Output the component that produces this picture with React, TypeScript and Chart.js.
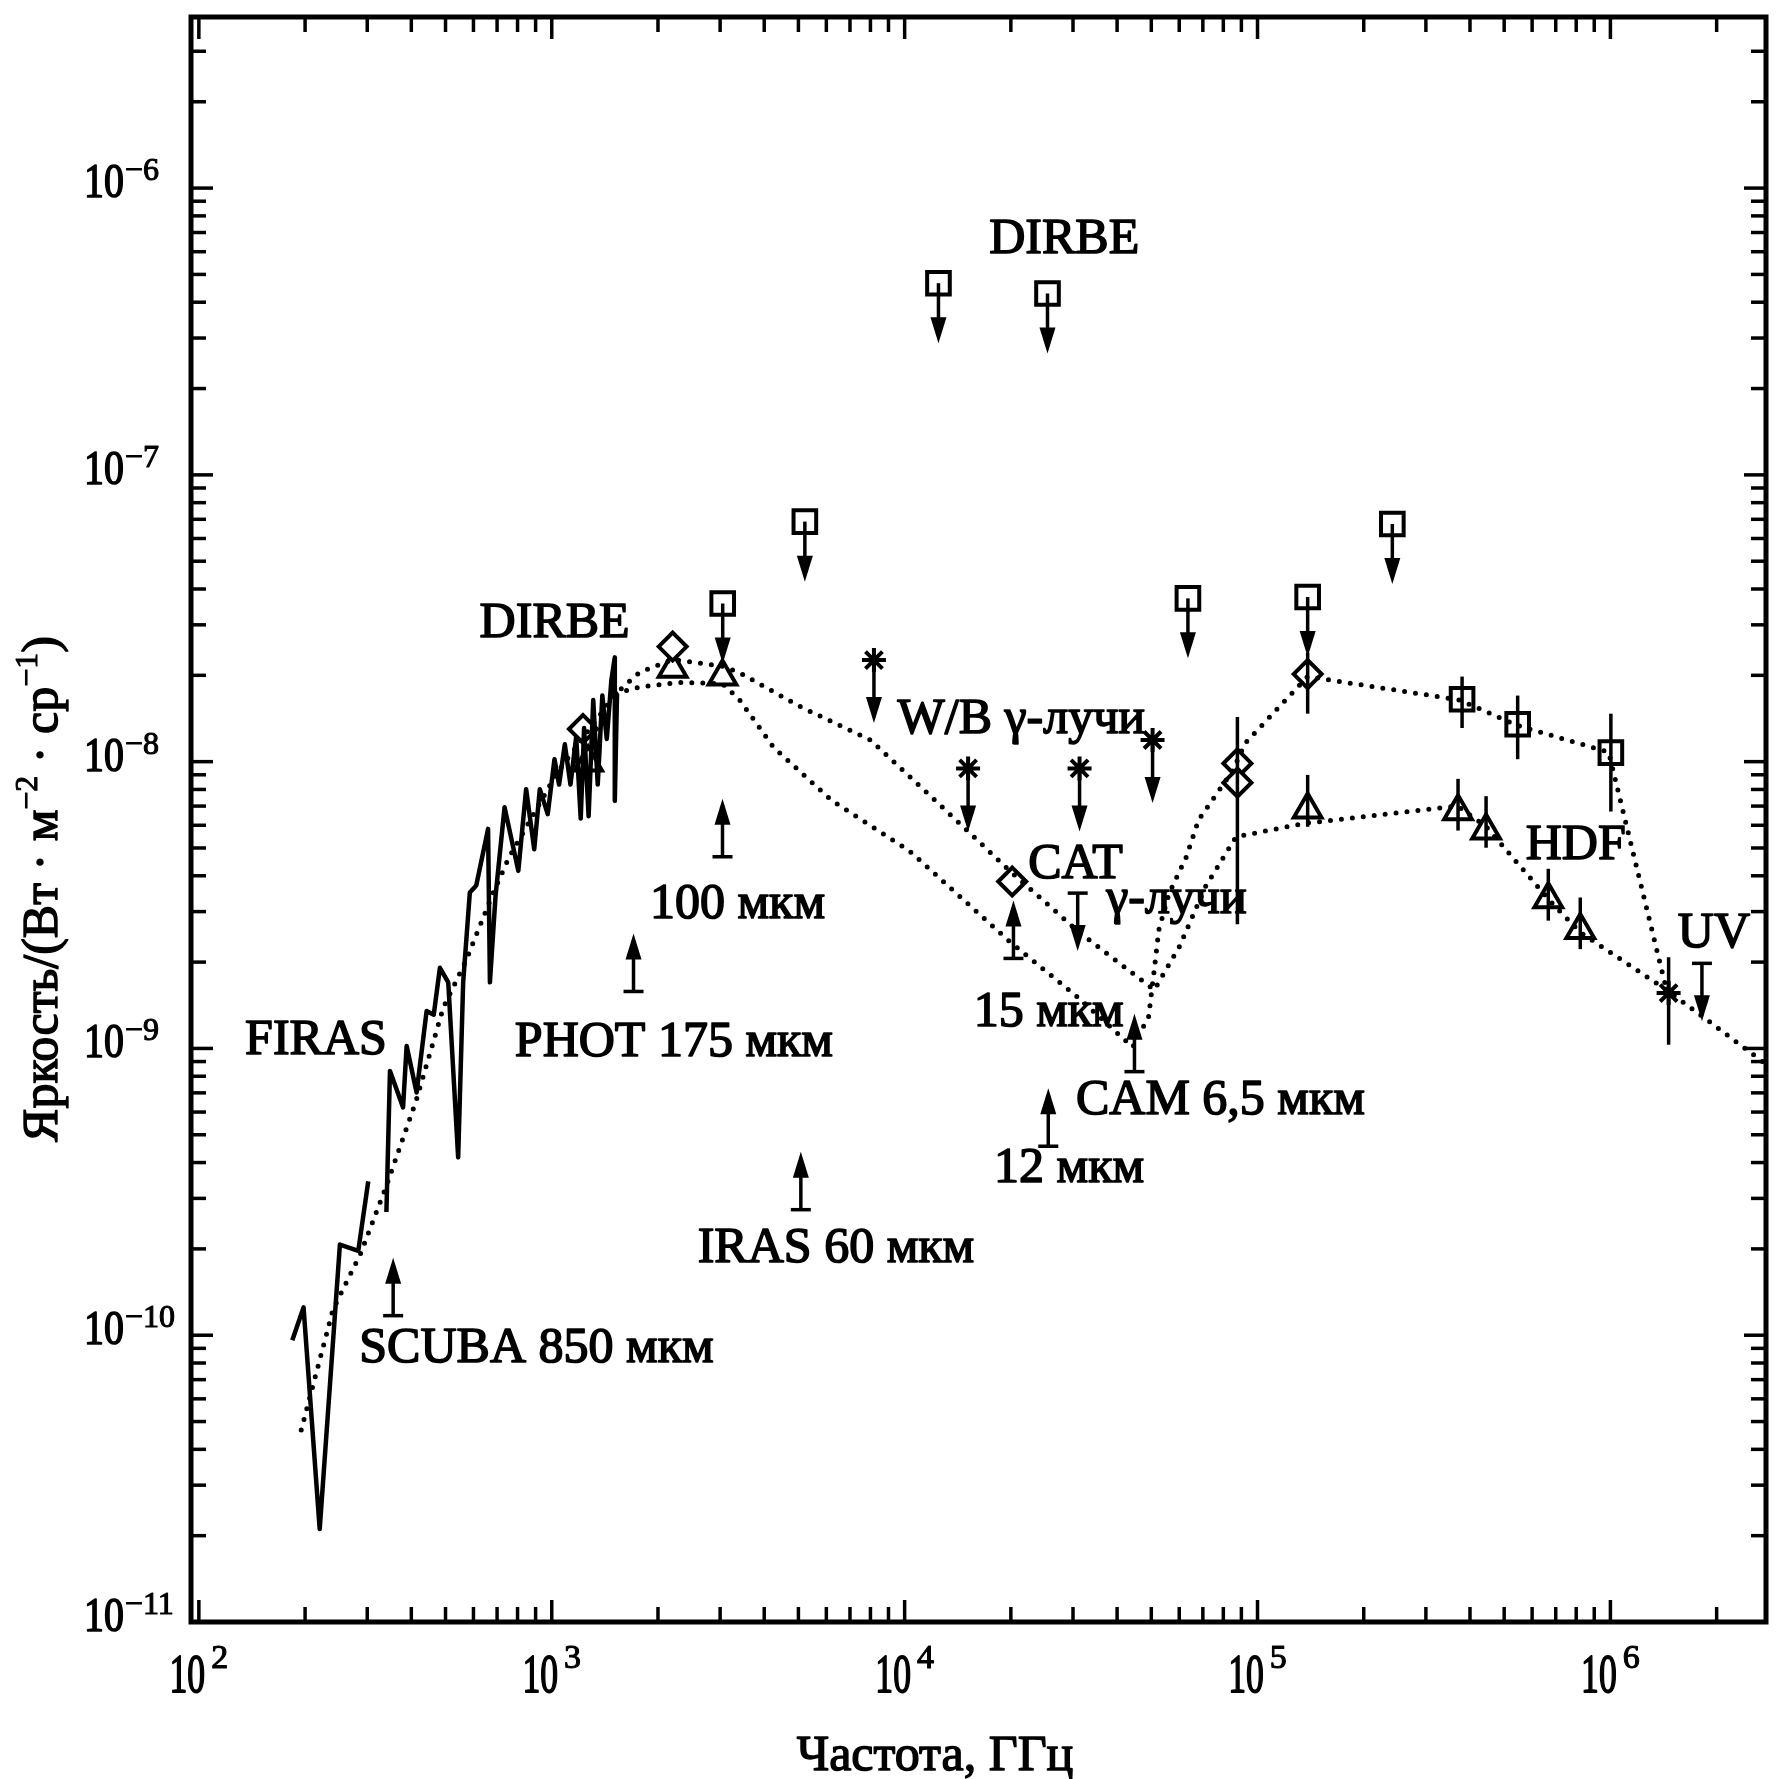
import React, { useEffect, useRef } from 'react';
import { Chart, registerables } from 'chart.js';

Chart.register(...registerables);

// Axis ranges: frequency in GHz, brightness in W·m⁻²·sr⁻¹
const FREQ_MIN = 95;
const FREQ_MAX = 2.76e6;
const BRIGHT_MIN = 1e-11;
const BRIGHT_MAX = 3.95e-6;

const xTickPowers = [2, 3, 4, 5, 6];
const yTickPowers = [-11, -10, -9, -8, -7, -6];

// FIRAS spectrum (null = break in the trace)
const firasFreq = [
  184, 198, 220, 251, 283, 302, 320, 340, 348, 379, 388, 414, 442, 463, 482, 509, 543, 561, 586, 611,
  660, 668, 693, 735, 804, 846, 892, 925, 974, 1018, 1049, 1089, 1130, 1173, 1208, 1235, 1272, 1311,
  1350, 1391, 1432, 1476, 1509, 1509, 1531,
];
const firasValue = [
  9.6e-11, 1.25e-10, 2.11e-11, 2.07e-10, 1.97e-10, 3.44e-10, null, 2.69e-10, 8.35e-10, 6.23e-10,
  1.02e-9, 7.02e-10, 1.35e-9, 1.31e-9, 1.91e-9, 1.7e-9, 4.17e-10, 1.7e-9, 3.5e-9, 3.7e-9,
  5.83e-9, 1.7e-9, 3.4e-9, 6.93e-9, 4.16e-9, 8.02e-9, 4.95e-9, 8.02e-9, 6.56e-9, 1.02e-8,
  8.32e-9, 1.15e-8, 8.32e-9, 1.22e-8, 6.33e-9, 1.31e-8, 6.45e-9, 1.64e-8, 8.32e-9, 1.7e-8,
  1.2e-8, 1.93e-8, 2.31e-8, 7.3e-9, 1.73e-8,
];

// Dotted model curves
const modelUpperFreq = [
  195, 240, 287, 340, 412, 493, 571, 683, 757, 1034, 1520, 1776, 2201, 3051, 3409, 5087, 7995,
  15360, 19680, 31260, 50980, 60010, 71170, 86930, 136700, 368900, 444000, 677200, 821400,
  1.442e6, 1.828e6, 2.73e6,
];
const modelUpperValue = [
  4.67e-11, 1.23e-10, 1.92e-10, 3.32e-10, 6.53e-10, 1.39e-9, 2.02e-9, 3.5e-9, 4.64e-9, 9.12e-9,
  1.73e-8, 2.05e-8, 2.27e-8, 2.15e-8, 2.04e-8, 1.55e-8, 1.19e-8, 5.62e-9, 4.2e-9, 2.54e-9,
  1.6e-9, 2.26e-9, 3.66e-9, 5.47e-9, 6.1e-9, 7.0e-9, 5.94e-9, 3.25e-9, 2.54e-9, 1.6e-9,
  1.29e-9, 8.9e-10,
];
const modelLowerFreq = [
  1520, 1776, 2285, 3051, 3409, 4258, 6215, 10290, 19680, 31720, 44290, 49130, 50980, 52520,
  56150, 62760, 68080, 85030, 92250, 138700, 374400, 542000, 988300, 1.442e6,
];
const modelLowerValue = [
  1.73e-8, 1.82e-8, 1.89e-8, 1.87e-8, 1.64e-8, 1.12e-8, 7.32e-9, 4.9e-9, 2.38e-9, 1.47e-9,
  1.01e-9, 1.29e-9, 1.88e-9, 2.59e-9, 3.47e-9, 4.64e-9, 6.27e-9, 9.29e-9, 1.16e-8, 1.98e-8,
  1.64e-8, 1.34e-8, 1.08e-8, 1.6e-9,
];

// DIRBE upper limits (squares with downward arrows)
const dirbeLimitFreq = [3051, 5215, 12470, 25400, 63500, 138700, 241000];
const dirbeLimitValue = [3.56e-8, 6.87e-8, 4.66e-7, 4.29e-7, 3.71e-8, 3.75e-8, 6.74e-8];

// Near-IR detections (squares with error bars)
const nirFreq = [379900, 546000, 1.003e6];
const nirValue = [1.65e-8, 1.35e-8, 1.075e-8];
const nirLow = [1.31e-8, 1.02e-8, 6.7e-9];
const nirHigh = [1.98e-8, 1.7e-8, 1.47e-8];

// Diamonds
const diamondFreq = [1226, 2201, 20180, 87700, 87700, 138700];
const diamondValue = [1.3e-8, 2.52e-8, 3.82e-9, 9.86e-9, 8.45e-9, 2.02e-8];
const diamondLow = [null, null, null, 2.71e-9, null, 1.47e-8];
const diamondHigh = [null, null, null, 1.43e-8, null, 2.4e-8];

// Triangles (DIRBE / HDF)
const triangleFreq = [1268, 2201, 3047, 138700, 370000, 444300, 666800, 821500];
const triangleValue = [9.94e-9, 2.11e-8, 1.98e-8, 6.81e-9, 6.71e-9, 5.75e-9, 3.31e-9, 2.59e-9];
const triangleLow = [null, null, null, 5.93e-9, 5.75e-9, 5.01e-9, 2.79e-9, 2.22e-9];
const triangleHigh = [null, null, null, 8.99e-9, 8.71e-9, 7.58e-9, 4.23e-9, 3.36e-9];

// W/B gamma-ray upper limits (asterisks with downward arrows)
const gammaFreq = [8185, 15130, 31310, 50420];
const gammaValue = [2.26e-8, 9.47e-9, 9.47e-9, 1.19e-8];

// UV point (asterisk with error bar)
const uvFreq = [1.462e6];
const uvValue = [1.56e-9];
const uvLow = [1.03e-9];
const uvHigh = [2.08e-9];

// Barred upper limits (CAT gamma-rays, UV)
const barLimitFreq = [30930, 1.817e6];
const barLimitValue = [3.48e-9, 1.98e-9];

// Lower limits (upward arrows): SCUBA, PHOT, 100 μm, IRAS, 15 μm, 12 μm, CAM 6.5 μm
const lowerLimitFreq = [355.3, 1705, 3047, 5080, 20340, 25530, 44800];
const lowerLimitValue = [1.17e-10, 1.58e-9, 4.66e-9, 2.74e-10, 2.06e-9, 4.56e-10, 8.3e-10];

// Text labels (left edge / baseline in data coordinates)
const labelText = [
  'DIRBE', 'DIRBE', 'FIRAS', 'SCUBA 850 мкм', 'PHOT 175 мкм', '100 мкм', 'IRAS 60 мкм',
  'W/B γ-лучи', 'CAT', 'γ-лучи', '15 мкм', 'CAM 6,5 мкм', '12 мкм', 'HDF', 'UV',
];
const labelFreq = [
  17370, 624.6, 135.2, 284.8, 786, 1898, 2592, 9550, 22400, 37240, 15690, 30580, 17930, 575400, 1.553e6,
];
const labelValue = [
  5.92e-7, 2.73e-8, 9.57e-10, 8.07e-11, 9.4e-10, 2.84e-9, 1.8e-10, 1.26e-8, 3.94e-9, 2.97e-9,
  1.2e-9, 5.9e-10, 3.41e-10, 4.56e-9, 2.26e-9,
];

const FONT = '"Liberation Serif", "Times New Roman", Times, serif';

const pts = (xs: number[], ys: (number | null)[]) => xs.map((x, i) => ({ x, y: ys[i] }));

// Filled + lightly stroked text, for a heavier printed look
function inkText(ctx: CanvasRenderingContext2D, t: string, x: number, y: number, weight = 1.4) {
  ctx.lineWidth = weight;
  ctx.lineJoin = 'round';
  ctx.strokeText(t, x, y);
  ctx.fillText(t, x, y);
}

function drawArrow(ctx: CanvasRenderingContext2D, x: number, fromY: number, toY: number) {
  const dir = Math.sign(toY - fromY);
  const headLen = 26;
  const half = 8;
  ctx.beginPath();
  ctx.moveTo(x, fromY);
  ctx.lineTo(x, toY - dir * headLen * 0.5);
  ctx.stroke();
  ctx.beginPath();
  ctx.moveTo(x, toY);
  ctx.lineTo(x - half, toY - dir * headLen);
  ctx.lineTo(x + half, toY - dir * headLen);
  ctx.closePath();
  ctx.fill();
}

function vLine(ctx: CanvasRenderingContext2D, x: number, y0: number, y1: number) {
  ctx.beginPath();
  ctx.moveTo(x, y0);
  ctx.lineTo(x, y1);
  ctx.stroke();
}

function hLine(ctx: CanvasRenderingContext2D, x0: number, x1: number, y: number) {
  ctx.beginPath();
  ctx.moveTo(x0, y);
  ctx.lineTo(x1, y);
  ctx.stroke();
}

const overlayPlugin = {
  id: 'sedOverlay',
  afterDatasetsDraw(chart: any) {
    const { ctx } = chart;
    const xs = chart.scales.x;
    const ys = chart.scales.y;
    const px = (f: number) => xs.getPixelForValue(f);
    const py = (v: number) => ys.getPixelForValue(v);
    ctx.save();
    ctx.strokeStyle = '#000';
    ctx.fillStyle = '#000';
    ctx.lineWidth = 3.5;
    ctx.lineCap = 'butt';

    const bars = (f: number[], lo: (number | null)[], hi: (number | null)[]) => {
      f.forEach((fr, i) => {
        const l = lo[i];
        const h = hi[i];
        if (l == null || h == null) return;
        vLine(ctx, px(fr), py(h), py(l));
      });
    };
    bars(nirFreq, nirLow, nirHigh);
    bars(diamondFreq, diamondLow, diamondHigh);
    bars(triangleFreq, triangleLow, triangleHigh);
    bars(uvFreq, uvLow, uvHigh);

    dirbeLimitFreq.forEach((f, i) => {
      const y = py(dirbeLimitValue[i]);
      drawArrow(ctx, px(f), y, y + 60);
    });
    gammaFreq.forEach((f, i) => {
      const y = py(gammaValue[i]);
      drawArrow(ctx, px(f), y, y + 63);
    });
    barLimitFreq.forEach((f, i) => {
      const x = px(f);
      const y = py(barLimitValue[i]);
      hLine(ctx, x - 10, x + 10, y);
      drawArrow(ctx, x, y, y + 58);
    });
    lowerLimitFreq.forEach((f, i) => {
      const x = px(f);
      const y = py(lowerLimitValue[i]);
      hLine(ctx, x - 10, x + 10, y);
      drawArrow(ctx, x, y, y - 58);
    });
    ctx.restore();
  },
  afterDraw(chart: any) {
    const { ctx, chartArea } = chart;
    const xs = chart.scales.x;
    const ys = chart.scales.y;
    const px = (f: number) => xs.getPixelForValue(f);
    const py = (v: number) => ys.getPixelForValue(v);
    const { left, right, top, bottom } = chartArea;
    ctx.save();
    ctx.strokeStyle = '#000';
    ctx.fillStyle = '#000';

    // frame
    ctx.lineWidth = 5;
    ctx.strokeRect(left, top, right - left, bottom - top);

    // inward ticks on all four sides
    ctx.lineWidth = 3.5;
    const majorLen = 22;
    const minorLen = 15;
    for (let p = Math.floor(Math.log10(FREQ_MIN)); p <= Math.ceil(Math.log10(FREQ_MAX)); p++) {
      for (let k = 1; k <= 9; k++) {
        const v = k * Math.pow(10, p);
        if (v < FREQ_MIN || v > FREQ_MAX) continue;
        const x = px(v);
        const len = k === 1 ? majorLen : minorLen;
        vLine(ctx, x, bottom, bottom - len);
        vLine(ctx, x, top, top + len);
      }
    }
    for (let p = Math.floor(Math.log10(BRIGHT_MIN)); p <= Math.ceil(Math.log10(BRIGHT_MAX)); p++) {
      for (let k = 1; k <= 9; k++) {
        const v = k * Math.pow(10, p);
        if (v < BRIGHT_MIN * 0.999 || v > BRIGHT_MAX) continue;
        const y = py(v);
        const len = k === 1 ? majorLen : minorLen;
        hLine(ctx, left, left + len, y);
        hLine(ctx, right, right - len, y);
      }
    }

    // y tick labels: 10 with superscript exponent
    ctx.textAlign = 'left';
    ctx.textBaseline = 'alphabetic';
    yTickPowers.forEach((p) => {
      const y = py(Math.pow(10, p));
      ctx.font = `48px ${FONT}`;
      const w = ctx.measureText('10').width * 0.83;
      ctx.save();
      ctx.translate(84, y + 9);
      ctx.scale(0.83, 1);
      inkText(ctx, '10', 0, 0, 1.6);
      ctx.restore();
      ctx.font = `32px ${FONT}`;
      inkText(ctx, '−' + Math.abs(p), 84 + w + 1, y - 8, 1.1);
    });

    // x tick labels
    xTickPowers.forEach((p) => {
      const x = px(Math.pow(10, p));
      ctx.font = `54px ${FONT}`;
      const w10 = ctx.measureText('10').width * 0.66;
      ctx.font = `34px ${FONT}`;
      const wSup = ctx.measureText(String(p)).width;
      const start = x - (w10 + 6 + wSup) / 2;
      ctx.save();
      ctx.translate(start, 1692);
      ctx.scale(0.66, 1);
      ctx.font = `54px ${FONT}`;
      inkText(ctx, '10', 0, 0, 1.8);
      ctx.restore();
      ctx.font = `34px ${FONT}`;
      inkText(ctx, String(p), start + w10 + 6, 1668, 1.1);
    });

    // x axis title
    ctx.font = `50px ${FONT}`;
    ctx.textAlign = 'center';
    inkText(ctx, 'Частота, ГГц', 935, 1770);

    // y axis title (rotated, with superscripts)
    const parts: [string, boolean][] = [
      ['Яркость/(Вт · м', false],
      ['−2', true],
      [' · ср', false],
      ['−1', true],
      [')', false],
    ];
    ctx.textAlign = 'left';
    let total = 0;
    const widths = parts.map(([t, sup]) => {
      ctx.font = `${sup ? 32 : 50}px ${FONT}`;
      const w = ctx.measureText(t).width;
      total += w;
      return w;
    });
    ctx.save();
    ctx.translate(57, 889);
    ctx.rotate(-Math.PI / 2);
    let cx = -total / 2;
    parts.forEach(([t, sup], i) => {
      ctx.font = `${sup ? 32 : 50}px ${FONT}`;
      inkText(ctx, t, cx, sup ? -20 : 0, sup ? 1.0 : 1.4);
      cx += widths[i];
    });
    ctx.restore();

    // annotations
    ctx.font = `50px ${FONT}`;
    ctx.textAlign = 'left';
    labelText.forEach((t, i) => {
      inkText(ctx, t, px(labelFreq[i]), py(labelValue[i]), 1.6);
    });
    ctx.restore();
  },
};

export default function App() {
  const canvasRef = useRef<HTMLCanvasElement>(null);

  useEffect(() => {
    const canvas = canvasRef.current;
    if (!canvas) return;
    const markerBase = {
      showLine: false,
      pointBorderColor: '#000',
      pointBackgroundColor: '#fff',
      pointBorderWidth: 4,
    };
    const chart = new Chart(canvas, {
      type: 'scatter',
      data: {
        datasets: [
          {
            label: 'FIRAS',
            data: pts(firasFreq, firasValue),
            showLine: true,
            spanGaps: false,
            borderColor: '#000',
            borderWidth: 4.5,
            borderJoinStyle: 'round',
            pointRadius: 0,
          },
          {
            label: 'model upper',
            data: pts(modelUpperFreq, modelUpperValue),
            showLine: true,
            borderColor: '#000',
            borderWidth: 5,
            borderDash: [0, 11],
            borderCapStyle: 'round',
            pointRadius: 0,
          },
          {
            label: 'model lower',
            data: pts(modelLowerFreq, modelLowerValue),
            showLine: true,
            borderColor: '#000',
            borderWidth: 5,
            borderDash: [0, 11],
            borderCapStyle: 'round',
            pointRadius: 0,
          },
          {
            label: 'DIRBE upper limits',
            data: pts(dirbeLimitFreq, dirbeLimitValue),
            ...markerBase,
            pointStyle: 'rect',
            pointRadius: 16,
          },
          {
            label: 'near-IR',
            data: pts(nirFreq, nirValue),
            ...markerBase,
            pointStyle: 'rect',
            pointRadius: 16,
          },
          {
            label: 'diamonds',
            data: pts(diamondFreq, diamondValue),
            ...markerBase,
            pointStyle: 'rectRot',
            pointRadius: 14,
          },
          {
            label: 'triangles',
            data: pts(triangleFreq, triangleValue),
            ...markerBase,
            pointStyle: 'triangle',
            pointRadius: 16,
          },
          {
            label: 'W/B gamma',
            data: pts(gammaFreq, gammaValue),
            ...markerBase,
            pointStyle: 'star',
            pointRadius: 12,
          },
          {
            label: 'UV',
            data: pts(uvFreq, uvValue),
            ...markerBase,
            pointStyle: 'star',
            pointRadius: 12,
          },
        ],
      },
      options: {
        animation: false,
        responsive: true,
        maintainAspectRatio: false,
        events: [],
        layout: { padding: { left: 191, right: 17, top: 17, bottom: 157 }, autoPadding: false },
        plugins: { legend: { display: false }, tooltip: { enabled: false } },
        scales: {
          x: { type: 'logarithmic', min: FREQ_MIN, max: FREQ_MAX, display: false },
          y: { type: 'logarithmic', min: BRIGHT_MIN, max: BRIGHT_MAX, display: false },
        },
      },
      plugins: [overlayPlugin],
    } as any);
    return () => chart.destroy();
  }, []);

  return (
    <div style={{ position: 'fixed', left: 0, top: 0, width: 1783, height: 1779, background: '#fff' }}>
      <canvas ref={canvasRef} />
    </div>
  );
}
